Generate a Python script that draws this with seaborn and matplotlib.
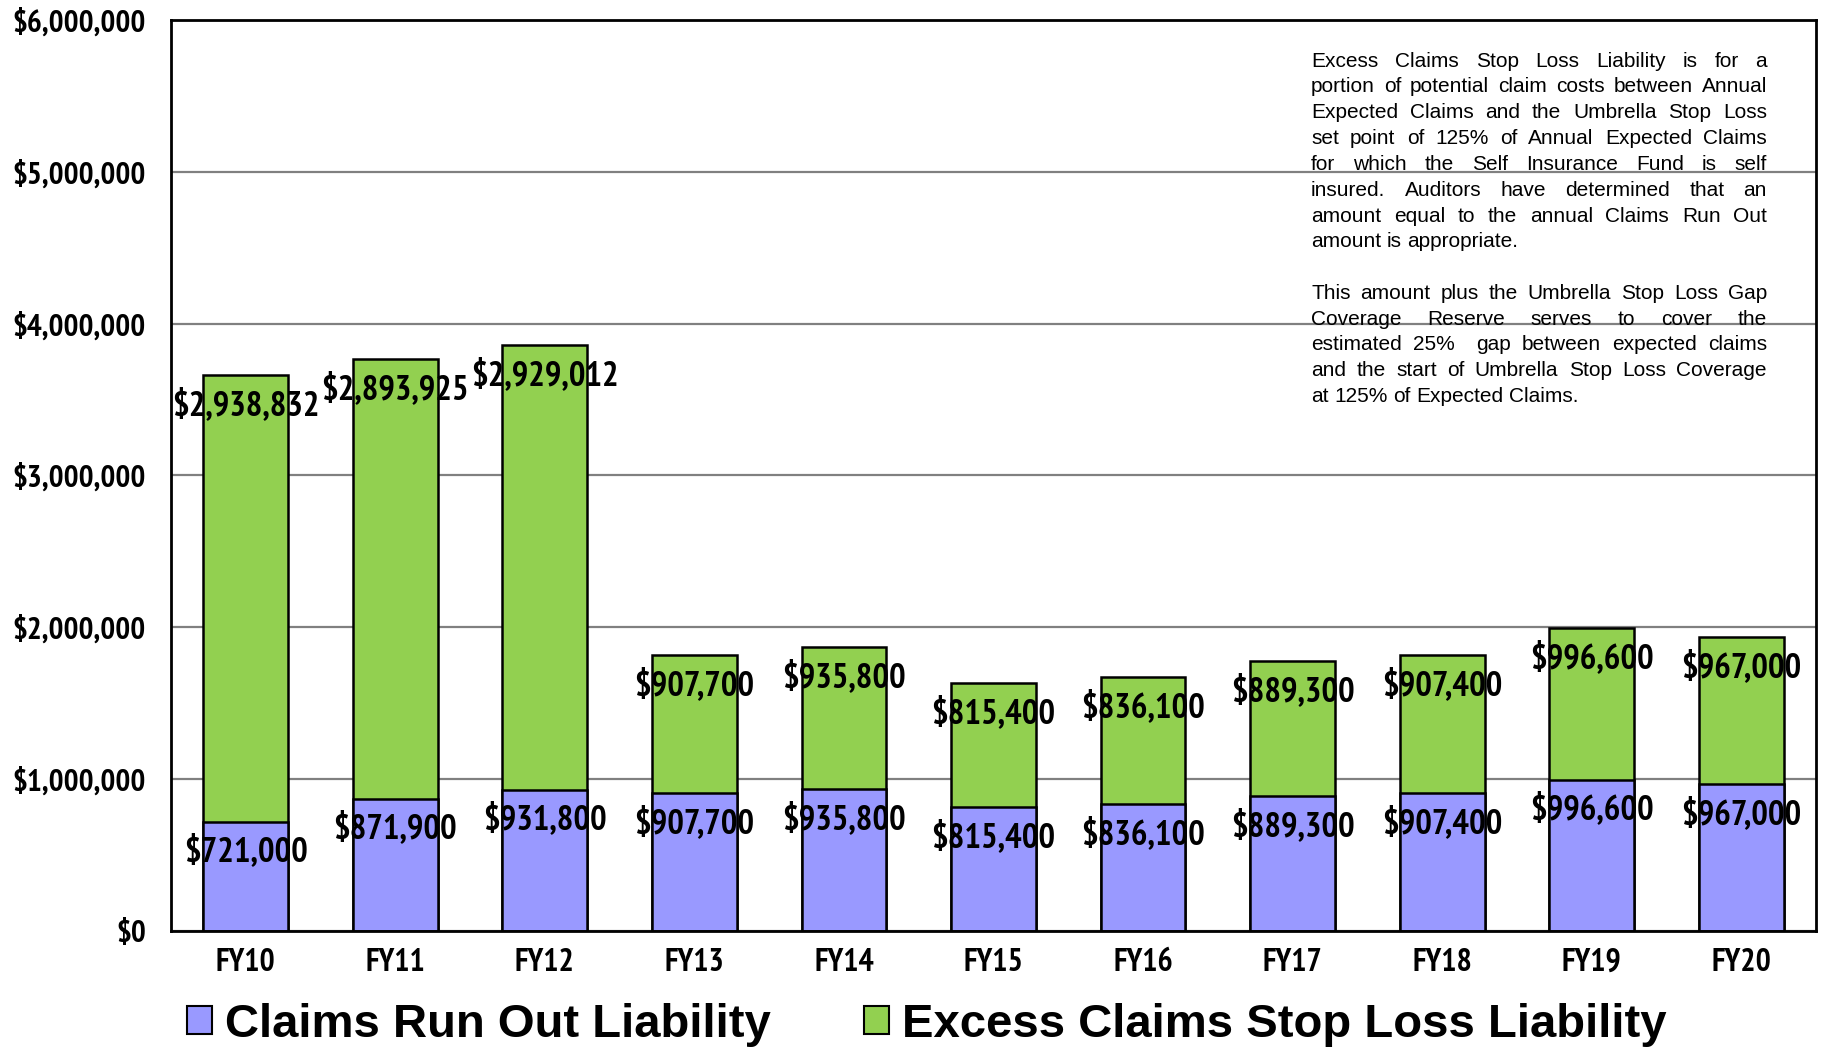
import matplotlib
matplotlib.use("Agg")
import matplotlib.pyplot as plt
from matplotlib.patches import Patch
from matplotlib import font_manager
import seaborn as sns
import pandas as pd

# ---- data -------------------------------------------------------------
years = ["FY10", "FY11", "FY12", "FY13", "FY14", "FY15",
         "FY16", "FY17", "FY18", "FY19", "FY20"]
run_out = [721000, 871900, 931800, 907700, 935800, 815400,
           836100, 889300, 907400, 996600, 967000]
stop_loss = [2938832, 2893925, 2929012, 907700, 935800, 815400,
             836100, 889300, 907400, 996600, 967000]
y_ticks = [0, 1000000, 2000000, 3000000, 4000000, 5000000, 6000000]
series_names = ["Claims Run Out Liability", "Excess Claims Stop Loss Liability"]
series_colors = ["#9999FF", "#92D050"]

note_lines = [
    "Excess Claims Stop Loss Liability is for a",
    "portion of potential claim costs between Annual",
    "Expected Claims and the Umbrella Stop Loss",
    "set point of 125% of Annual Expected Claims",
    "for which the Self Insurance Fund is self",
    "insured. Auditors have determined that an",
    "amount equal to the annual Claims Run Out",
    "amount is appropriate.",
    "",
    "This amount plus the Umbrella Stop Loss Gap",
    "Coverage Reserve serves to cover the",
    "estimated 25%  gap between expected claims",
    "and the start of Umbrella Stop Loss Coverage",
    "at 125% of Expected Claims.",
]

# ---- fonts ------------------------------------------------------------
sns.set_theme(style="white")
bold_static = {f.name for f in font_manager.fontManager.ttflist
               if f.weight == 700 and "[" not in f.fname}
narrow = "Liberation Sans"
for cand in ["Liberation Sans Narrow", "Arial Narrow", "Archivo Narrow",
             "PT Sans Narrow", "Roboto Condensed", "Fira Sans Condensed",
             "IBM Plex Sans Condensed", "Encode Sans Condensed"]:
    if cand in bold_static:
        narrow = cand
        break
plt.rcParams["font.family"] = [narrow, "DejaVu Sans"]
plt.rcParams["text.color"] = "black"
plt.rcParams["xtick.color"] = "black"
plt.rcParams["ytick.color"] = "black"
body_family = ["Liberation Sans", "DejaVu Sans"]

W, H = 1822, 1051
fig = plt.figure(figsize=(W / 100, H / 100), dpi=100)
fig.patch.set_facecolor("white")
ax = fig.add_axes([171 / W, 1 - 931 / H, (1816 - 171) / W, (931 - 20) / H])

df = pd.DataFrame({"year": years, "run_out": run_out, "stop_loss": stop_loss})
df["total"] = df["run_out"] + df["stop_loss"]

bar_w = 0.567
# full stack height in green, claims run-out drawn in front in purple
sns.barplot(data=df, x="year", y="total", order=years, color=series_colors[1],
            saturation=1, errorbar=None, width=bar_w, edgecolor="black",
            linewidth=1.8, ax=ax)
sns.barplot(data=df, x="year", y="run_out", order=years, color=series_colors[0],
            saturation=1, errorbar=None, width=bar_w, edgecolor="black",
            linewidth=1.8, ax=ax)

ax.set_ylim(0, 6000000)
ax.set_xlim(-0.5, len(years) - 0.5)
ax.set_yticks(y_ticks)
ax.set_yticklabels([f"${v:,.0f}" for v in y_ticks], fontsize=22.5,
                   fontweight="bold", color="black")
ax.set_xticks(range(len(years)))
ax.set_xticklabels(years, fontsize=23, fontweight="bold", color="black")
ax.tick_params(axis="both", length=0)
ax.tick_params(axis="y", pad=18)
ax.tick_params(axis="x", pad=12)
ax.set_xlabel("")
ax.set_ylabel("")
ax.yaxis.grid(True, color="#808080", linewidth=1.6)
ax.xaxis.grid(False)
ax.set_axisbelow(True)
for sp in ax.spines.values():
    sp.set_color("black")
    sp.set_linewidth(2)

# value labels just inside the top of each segment
for i in range(len(years)):
    ax.annotate(f"${run_out[i]:,}", xy=(i, run_out[i]), xytext=(0, -30),
                textcoords="offset pixels", ha="center", va="center",
                fontsize=25, fontweight="bold", color="black")
    top = run_out[i] + stop_loss[i]
    ax.annotate(f"${stop_loss[i]:,}", xy=(i, top), xytext=(0, -30),
                textcoords="offset pixels", ha="center", va="center",
                fontsize=25, fontweight="bold", color="black")

# legend below the plot
handles = [Patch(facecolor=c, edgecolor="black", linewidth=1.5) for c in series_colors]
fig.legend(handles, series_names, loc="center", bbox_to_anchor=(0.5086, 1 - 1025 / H),
           ncol=2, frameon=False,
           prop={"family": body_family, "weight": "bold", "size": 34},
           labelcolor="black", handlelength=0.53, handleheight=0.53,
           handletextpad=0.27, columnspacing=1.97, borderaxespad=0)

# justified explanatory note
renderer = fig.canvas.get_renderer()
left_px, right_px = 1311, 1767
base0, step = 66.7, 25.8
note_size = 15


def text_width(s):
    t = fig.text(0, 0, s, fontsize=note_size, family=body_family)
    w = t.get_window_extent(renderer).width
    t.remove()
    return w


space_w = text_width("a a") - text_width("aa")
for k, line in enumerate(note_lines):
    if not line:
        continue
    y = 1 - (base0 + k * step) / H
    words = line.split(" ")
    last = k == len(note_lines) - 1 or not note_lines[k + 1]
    objs = [fig.text(0, y, w, fontsize=note_size, family=body_family,
                     va="baseline", ha="left", color="black") for w in words]
    widths = [o.get_window_extent(renderer).width if w else 0.0
              for o, w in zip(objs, words)]
    if last or len(words) == 1:
        gap = space_w
    else:
        gap = (right_px - left_px - sum(widths)) / (len(words) - 1)
    x = left_px
    for o, w in zip(objs, widths):
        o.set_x(x / W)
        x += w + gap

fig.savefig("out.png", dpi=100, facecolor="white")
